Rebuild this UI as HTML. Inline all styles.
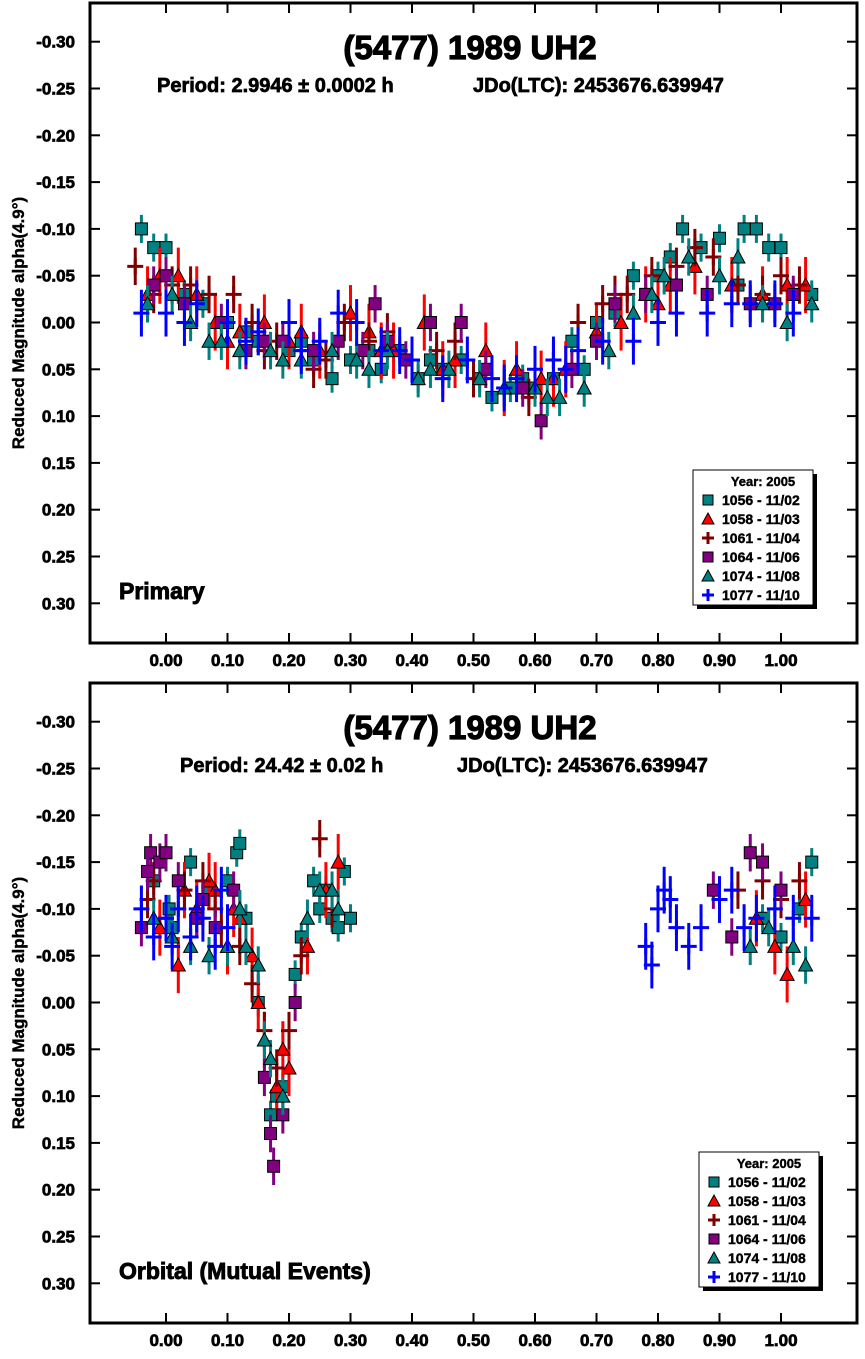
<!DOCTYPE html>
<html><head><meta charset="utf-8"><style>
body{margin:0;background:#fff;font-family:"Liberation Sans",Arial,sans-serif}
svg{display:block}
text{font-family:"Liberation Sans",Arial,sans-serif;font-weight:bold}
</style></head><body>
<svg id="c" width="865" height="1359" viewBox="0 0 865 1359" xmlns="http://www.w3.org/2000/svg"></svg>
<script>
// ---- data: top (primary) panel ----
const seriesNames=["1056 - 11/02","1058 - 11/03","1061 - 11/04","1064 - 11/06","1074 - 11/08","1077 - 11/10"];
const yTicks=[-0.30,-0.25,-0.20,-0.15,-0.10,-0.05,0.00,0.05,0.10,0.15,0.20,0.25,0.30];
const xTicks=[0.0,0.1,0.2,0.3,0.4,0.5,0.6,0.7,0.8,0.9,1.0];
const p1_1056_x=[-0.04,-0.02,0.0,0.03,0.06,0.1,0.15,0.2,0.24,0.27,0.3,0.35,0.38,0.41,0.45,0.48,0.51,0.53,0.56,0.6,0.63,0.66,0.7,0.73,0.76,0.8,0.82,0.84,0.87,0.9,0.94,0.96,0.98,1.0,1.02,1.05,0.13,0.22,0.33,0.43,0.58,0.68,0.78,0.93];
const p1_1056_y=[-0.10,-0.08,-0.08,-0.03,-0.02,0.0,0.02,0.03,0.04,0.06,0.04,0.05,0.03,0.06,0.05,0.04,0.06,0.08,0.07,0.07,0.06,0.02,0.0,-0.01,-0.05,-0.05,-0.07,-0.10,-0.08,-0.09,-0.10,-0.10,-0.08,-0.08,-0.03,-0.03,0.01,0.02,0.03,0.04,0.06,0.05,-0.03,-0.04];
const p1_1058_x=[-0.03,-0.01,0.02,0.05,0.08,0.12,0.16,0.2,0.25,0.3,0.33,0.37,0.42,0.47,0.52,0.57,0.61,0.65,0.7,0.74,0.78,0.82,0.86,0.92,0.97,1.01,1.04,0.1,0.22,0.35,0.45,0.55,0.63,0.8];
const p1_1058_y=[-0.03,-0.05,-0.05,-0.03,0.0,0.01,0.0,0.02,0.03,-0.01,0.01,0.03,0.0,0.04,0.03,0.05,0.06,0.05,0.01,0.0,-0.03,-0.04,-0.06,-0.04,-0.03,-0.04,-0.04,0.02,0.01,0.03,0.05,0.07,0.06,-0.02];
const p1_1061_x=[-0.05,-0.02,0.01,0.04,0.07,0.11,0.14,0.18,0.22,0.26,0.29,0.33,0.36,0.4,0.44,0.5,0.55,0.59,0.63,0.67,0.71,0.75,0.79,0.83,0.86,0.89,0.93,0.97,1.0,1.03,0.16,0.24,0.47,0.73];
const p1_1061_y=[-0.06,-0.03,-0.04,-0.04,-0.03,-0.03,0.0,0.02,0.03,0.04,0.0,0.02,0.01,0.04,0.03,0.06,0.07,0.08,0.04,0.0,-0.02,-0.03,-0.05,-0.06,-0.08,-0.07,-0.04,-0.03,-0.05,-0.04,0.03,0.05,0.02,-0.03];
const p1_1064_x=[-0.02,0.0,0.03,0.09,0.13,0.19,0.24,0.28,0.32,0.36,0.39,0.43,0.48,0.52,0.58,0.61,0.66,0.7,0.73,0.78,0.83,0.88,0.95,0.99,1.02,0.16,0.34];
const p1_1064_y=[-0.04,-0.05,-0.02,0.0,0.03,0.02,0.03,0.02,0.03,0.02,0.04,0.0,0.0,0.05,0.07,0.105,0.05,0.02,-0.02,-0.03,-0.04,-0.03,-0.02,-0.02,-0.03,0.02,-0.02];
const p1_1074_x=[-0.03,0.01,0.04,0.07,0.12,0.17,0.22,0.27,0.31,0.36,0.41,0.46,0.51,0.55,0.6,0.64,0.68,0.72,0.76,0.79,0.81,0.85,0.9,0.93,0.97,1.01,1.05,0.09,0.19,0.33,0.43,0.62];
const p1_1074_y=[-0.02,-0.03,0.0,0.02,0.03,0.03,0.04,0.03,0.04,0.03,0.06,0.05,0.06,0.07,0.07,0.08,0.07,0.03,-0.01,-0.03,-0.05,-0.07,-0.05,-0.07,-0.02,0.0,-0.02,0.02,0.04,0.05,0.05,0.08];
const p1_1077_x=[-0.04,0.0,0.05,0.1,0.15,0.2,0.25,0.28,0.31,0.35,0.4,0.45,0.49,0.53,0.57,0.6,0.63,0.67,0.71,0.76,0.8,0.83,0.88,0.92,0.95,0.99,1.02,0.03,0.13,0.22,0.38,0.55,0.65];
const p1_1077_y=[-0.01,-0.01,-0.02,0.0,0.01,0.0,0.02,-0.01,0.0,0.03,0.04,0.06,0.04,0.06,0.06,0.05,0.04,0.03,0.02,0.02,0.0,-0.01,-0.01,-0.02,-0.02,-0.02,-0.01,0.0,0.02,0.03,0.03,0.07,0.05];
// ---- data: bottom (orbital) panel ----
const p2_1056_x=[-0.02,0.01,0.04,0.07,0.1,0.115,0.13,0.15,0.17,0.19,0.21,0.22,0.24,0.26,0.27,0.29,0.3,0.005,0.06,0.97,1.0,1.03,1.05,0.12,0.18,0.25,0.28];
const p2_1056_y=[-0.13,-0.08,-0.15,-0.12,-0.13,-0.16,-0.09,0.0,0.12,0.09,-0.03,-0.07,-0.13,-0.12,-0.09,-0.14,-0.09,-0.1,-0.11,-0.09,-0.07,-0.10,-0.15,-0.17,0.1,-0.1,-0.08];
const p2_1058_x=[-0.01,0.02,0.05,0.08,0.1,0.12,0.14,0.16,0.18,0.2,0.23,0.26,0.28,0.96,0.99,1.01,1.04,0.03,0.07,0.11,0.15,0.19];
const p2_1058_y=[-0.08,-0.04,-0.10,-0.12,-0.06,-0.09,-0.05,0.04,0.09,0.07,-0.06,-0.12,-0.15,-0.09,-0.06,-0.03,-0.11,-0.12,-0.13,-0.1,0.0,0.05];
const p2_1061_x=[-0.03,0.0,0.03,0.06,0.09,0.12,0.14,0.16,0.18,0.2,0.22,0.25,0.27,0.93,0.97,1.0,1.03,-0.02,0.08];
const p2_1061_y=[-0.11,-0.09,-0.12,-0.13,-0.08,-0.06,-0.02,0.03,0.07,0.03,-0.05,-0.175,-0.1,-0.12,-0.13,-0.11,-0.13,-0.13,-0.1];
const p2_1064_x=[-0.04,-0.025,-0.01,0.02,0.05,0.08,0.11,0.16,0.17,0.175,0.19,0.21,0.89,0.92,0.95,0.97,1.0,-0.03,0.0,0.06];
const p2_1064_y=[-0.08,-0.16,-0.15,-0.13,-0.09,-0.08,-0.12,0.08,0.14,0.175,0.12,0.0,-0.12,-0.07,-0.16,-0.15,-0.12,-0.14,-0.16,-0.11];
const p2_1074_x=[-0.02,0.01,0.04,0.07,0.1,0.13,0.15,0.17,0.19,0.25,0.28,0.95,0.98,1.02,1.04,0.12,0.16,0.23,0.27];
const p2_1074_y=[-0.09,-0.07,-0.06,-0.05,-0.06,-0.06,-0.04,0.06,0.1,-0.12,-0.1,-0.06,-0.08,-0.06,-0.04,-0.1,0.04,-0.09,-0.12];
const p2_1077_x=[-0.04,-0.02,0.0,0.02,0.04,0.06,0.08,0.1,0.78,0.79,0.8,0.81,0.82,0.83,0.85,0.87,0.9,0.92,0.94,0.96,0.99,1.02,1.05,0.01,0.05,0.09];
const p2_1077_y=[-0.10,-0.07,-0.09,-0.10,-0.07,-0.09,-0.06,-0.08,-0.06,-0.04,-0.10,-0.12,-0.11,-0.08,-0.06,-0.08,-0.11,-0.12,-0.08,-0.09,-0.10,-0.09,-0.09,-0.06,-0.1,-0.12];

const NS="http://www.w3.org/2000/svg";
const svg=document.getElementById('c');
function mk(tag,attrs,parent){const e=document.createElementNS(NS,tag);for(const k in attrs)e.setAttribute(k,attrs[k]);(parent||svg).appendChild(e);return e;}
const styles=[{c:"#008080",m:"sq",e:0.015},{c:"#ff0000",m:"tri",e:0.03},{c:"#800000",m:"plus",e:0.02},{c:"#800080",m:"sq",e:0.02},{c:"#008080",m:"tri",e:0.02},{c:"#0000ff",m:"plus",e:0.025}];
const BOLD={stroke:"#000","stroke-width":0.7};

function marker(g,m,c,x,y,s){
  if(m==="sq"){return mk('rect',{x:x-s,y:y-s,width:2*s,height:2*s,fill:c,stroke:"#000","stroke-width":1},g);}
  if(m==="tri"){return mk('polygon',{points:`${x},${y-s-1} ${x-s-1},${y+s} ${x+s+1},${y+s}`,fill:c,stroke:"#000","stroke-width":1},g);}
  return mk('path',{d:`M${x-s-1},${y}H${x+s+1}M${x},${y-s-1}V${y+s+1}`,stroke:c,"stroke-width":3,fill:"none"},g);
}
function txt(g,attrs,s,name){const t=mk('text',Object.assign({},BOLD,attrs),g);t.textContent=s;return t;}

function panel(top,title,sub1,sub1x,sub2x,label,labelSize,data,legendX,legendY){
  const L=90,R=857,T=top,B=top+640;
  const xs=p=>166+615*p;
  const ys=m=>T+319.5+936*m;
  const g=mk('g',{});
  
  
  const fr=mk('rect',{x:L,y:T,width:R-L,height:B-T,fill:"#fff",stroke:"#000","stroke-width":3},g);
  
  
  yTicks.forEach(v=>{
    const y=ys(v);
    mk('line',{x1:L,x2:L+10,y1:y,y2:y,stroke:"#000","stroke-width":2},g);
    mk('line',{x1:R-10,x2:R,y1:y,y2:y,stroke:"#000","stroke-width":2},g);
    txt(g,{x:75,y:y+6,"text-anchor":"end","font-size":17},v.toFixed(2),'y-tick-label');
  });
  xTicks.forEach(v=>{
    const x=xs(v);
    mk('line',{x1:x,x2:x,y1:T,y2:T+10,stroke:"#000","stroke-width":2},g);
    mk('line',{x1:x,x2:x,y1:B-10,y2:B,stroke:"#000","stroke-width":2},g);
    txt(g,{x:x,y:B+23,"text-anchor":"middle","font-size":17},v.toFixed(2),'x-tick-label');
  });
  txt(g,{x:470,y:T+56,"text-anchor":"middle","font-size":33,"stroke-width":1.2},title,'chart-title');
  txt(g,{x:sub1x,y:T+89,"font-size":20},sub1,'chart-subtitle-period');
  txt(g,{x:sub2x,y:T+89,"font-size":20},"JDo(LTC): 2453676.639947",'chart-subtitle-jdo');
  txt(g,{x:0,y:0,"text-anchor":"middle","font-size":17,"stroke-width":0.4,transform:`translate(24,${T+320}) rotate(-90)`},"Reduced Magnitude alpha(4.9°)",'y-axis-title');
  txt(g,{x:119,y:T+596,"font-size":labelSize,"stroke-width":0.9},label,'panel-label');
  data.forEach((d,i)=>{
    const st=styles[i];
    const sg=mk('g',{},g);
    
    
    d[0].forEach((p,j)=>{
      const x=xs(p),y=ys(d[1][j]);
      const eb=mk('line',{x1:x,x2:x,y1:ys(d[1][j]-st.e),y2:ys(d[1][j]+st.e),stroke:st.c,"stroke-width":3},sg);
      
      
      const mkr=marker(sg,st.m,st.c,x,y,st.m==="plus"?7:6);
      
      
    });
  });
  const lg=mk('g',{},g);
  
  
  mk('rect',{x:legendX+4,y:legendY+4,width:120,height:135,fill:"#000"},lg);
  mk('rect',{x:legendX,y:legendY,width:120,height:135,fill:"#fff",stroke:"#000","stroke-width":1},lg);
  txt(lg,{x:legendX+70,y:legendY+16,"text-anchor":"middle","font-size":13,"stroke-width":0.4},"Year: 2005",'legend-title');
  seriesNames.forEach((n,i)=>{
    const yy=legendY+35+i*19;
    const mm=marker(lg,styles[i].m,styles[i].c,legendX+15,yy-5,5);
    
    
    txt(lg,{x:legendX+29,y:yy,"font-size":14,"stroke-width":0.4},n,'legend-entry');
  });
}
panel(3,"(5477) 1989 UH2","Period: 2.9946 ± 0.0002 h",157,473,"Primary",23,
 [[p1_1056_x,p1_1056_y],[p1_1058_x,p1_1058_y],[p1_1061_x,p1_1061_y],[p1_1064_x,p1_1064_y],[p1_1074_x,p1_1074_y],[p1_1077_x,p1_1077_y]],693,470);
panel(683,"(5477) 1989 UH2","Period: 24.42 ± 0.02 h",180,457,"Orbital (Mutual Events)",23,
 [[p2_1056_x,p2_1056_y],[p2_1058_x,p2_1058_y],[p2_1061_x,p2_1061_y],[p2_1064_x,p2_1064_y],[p2_1074_x,p2_1074_y],[p2_1077_x,p2_1077_y]],699,1152);
</script>
</body></html>
